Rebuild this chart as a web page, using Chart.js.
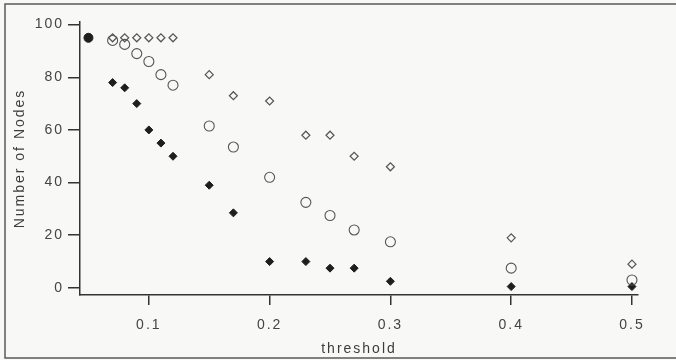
<!DOCTYPE html>
<html>
<head>
<meta charset="utf-8">
<script src="https://cdn.jsdelivr.net/npm/chart.js@4"></script>
<style>
  html, body { margin: 0; padding: 0; background: #f8f8f6; }
  #wrap { width: 676px; height: 360px; position: relative; }
</style>
</head>
<body>
<div id="wrap"><canvas id="nodesChart"></canvas></div>
<script>
// threshold values shared by the three main series
const thresholds = [0.07, 0.08, 0.09, 0.10, 0.11, 0.12, 0.15, 0.17, 0.20, 0.23, 0.25, 0.27, 0.30, 0.40, 0.50];
const openDiamond = [95, 95, 95, 95, 95, 95, 81, 73, 71, 58, 58, 50, 46, 19, 9];
const openCircle = [94, 92.5, 89, 86, 81, 77, 61.5, 53.5, 42, 32.5, 27.5, 22, 17.5, 7.5, 3];
const filledDiamond = [78, 76, 70, 60, 55, 50, 39, 28.5, 10, 10, 7.5, 7.5, 2.5, 0.5, 0.5];
// single starting point
const startX = [0.05];
const startY = [95];

const xTicks = [0.1, 0.2, 0.3, 0.4, 0.5];
const yTicks = [0, 20, 40, 60, 80, 100];

const toPoints = (xs, ys) => xs.map((x, i) => ({ x: x, y: ys[i] }));

// wide letter spacing like the old typeset figure (canvas resets on resize, so set it each time)
const spacingPlugin = {
    id: 'spacing',
    beforeUpdate(chart) { chart.ctx.letterSpacing = '2px'; },
    beforeDraw(chart) { chart.ctx.letterSpacing = '2px'; }
};

// frame around the figure (open on the right, like the scan)
const framePlugin = {
    id: 'frame',
    afterDraw(chart) {
        const ctx = chart.ctx;
        ctx.save();
        ctx.strokeStyle = '#5a5a5a';
        ctx.lineWidth = 1.5;
        ctx.beginPath();
        ctx.moveTo(676, 4);
        ctx.lineTo(5, 4);
        ctx.lineTo(5, 358);
        ctx.lineTo(676, 358);
        ctx.stroke();
        ctx.restore();
    }
};

const tickFont = { family: "'Liberation Sans', Arial, sans-serif", size: 14 };

new Chart(document.getElementById('nodesChart').getContext('2d'), {
    type: 'scatter',
    data: {
        datasets: [
            {
                label: 'start',
                data: toPoints(startX, startY),
                pointStyle: 'circle',
                pointRadius: 4.5,
                backgroundColor: '#1e1e1e',
                borderColor: '#1e1e1e',
                borderWidth: 1
            },
            {
                label: 'open diamond',
                data: toPoints(thresholds, openDiamond),
                pointStyle: 'rectRot',
                pointRadius: 4,
                backgroundColor: 'rgba(0,0,0,0)',
                borderColor: '#555',
                borderWidth: 1.2
            },
            {
                label: 'open circle',
                data: toPoints(thresholds, openCircle),
                pointStyle: 'circle',
                pointRadius: 5,
                backgroundColor: 'rgba(0,0,0,0)',
                borderColor: '#555',
                borderWidth: 1.1
            },
            {
                label: 'filled diamond',
                data: toPoints(thresholds, filledDiamond),
                pointStyle: 'rectRot',
                pointRadius: 4,
                backgroundColor: '#1e1e1e',
                borderColor: '#1e1e1e',
                borderWidth: 1
            }
        ]
    },
    options: {
        responsive: true,
        maintainAspectRatio: false,
        animation: false,
        layout: { padding: { left: 10, right: 38, top: 22, bottom: 2 } },
        scales: {
            x: {
                type: 'linear',
                min: 0.043,
                max: 0.505,
                afterBuildTicks: scale => { scale.ticks = xTicks.map(v => ({ value: v })); },
                afterFit: scale => { scale.height = 63; },
                grid: { drawOnChartArea: false, drawTicks: true, tickLength: 10, color: '#333', lineWidth: 1.5 },
                border: { display: true, color: '#333', width: 1.5 },
                ticks: { color: '#444', font: tickFont, padding: 12, callback: v => v.toFixed(1) },
                title: { display: true, text: 'threshold', color: '#3c3c3c', font: tickFont, padding: { top: 2, bottom: 0 } }
            },
            y: {
                type: 'linear',
                min: -2.7,
                max: 101,
                afterBuildTicks: scale => { scale.ticks = yTicks.map(v => ({ value: v })); },
                afterFit: scale => { scale.width = 70; },
                grid: { drawOnChartArea: false, drawTicks: true, tickLength: 12, color: '#333', lineWidth: 1.5 },
                border: { display: true, color: '#333', width: 1.5 },
                ticks: { color: '#444', font: tickFont, padding: 4 },
                title: { display: true, text: 'Number of Nodes', color: '#3c3c3c', font: tickFont, padding: { top: 2, bottom: 0 } }
            }
        },
        plugins: {
            legend: { display: false },
            tooltip: { enabled: false }
        }
    },
    plugins: [spacingPlugin, framePlugin]
});
</script>
</body>
</html>
